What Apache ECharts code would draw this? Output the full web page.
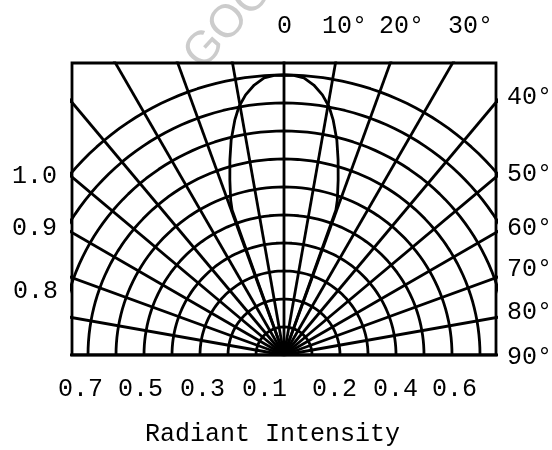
<!DOCTYPE html>
<html>
<head>
<meta charset="utf-8">
<script src="https://cdn.jsdelivr.net/npm/echarts@6/dist/echarts.min.js"></script>
<style>
html, body { margin:0; padding:0; background:#fff; }
#main { width:552px; height:450px; }
</style>
</head>
<body>
<div id="main"></div>
<script>
// rings of the polar grid (relative intensity) and spokes (deg from axis)
var ringValues = [0.1, 0.2, 0.3, 0.4, 0.5, 0.6, 0.7, 0.8, 0.9, 1.0] ;
var spokeAngles = [-90, -80, -70, -60, -50, -40, -30, -20, -10, 0, 10, 20, 30, 40, 50, 60, 70, 80, 90] ;

// measured beam pattern, one side (symmetric)
var lobeAngles = [0, 2, 4.1, 6.3, 8.4, 10.3, 11.8, 13.8, 15.5, 17.2, 19.0, 19.7, 20] ;
var lobeValues = [1.0, 0.999, 0.992, 0.970, 0.939, 0.901, 0.858, 0.791, 0.723, 0.654, 0.585, 0.55, 0] ;

// text around the frame
var topLabels = ['0', '10°', '20°', '30°'] ;
var rightLabels = ['40°', '50°', '60°', '70°', '80°', '90°'] ;
var leftLabels = ['1.0', '0.9', '0.8'] ;
var bottomLabels = ['0.7', '0.5', '0.3', '0.1', '0.2', '0.4', '0.6'] ;
var axisTitle = 'Radiant Intensity' ;

var topPos = [[277, 26], [322, 26], [379, 26], [448, 26]] ;
var rightPos = [[507, 97], [507, 174], [507, 228], [507, 269], [507, 312], [507, 357]] ;
var leftPos = [[12, 176], [12, 228], [13, 291]] ;
var bottomPos = [[58, 389], [118, 389], [180, 389], [242, 389], [312, 389], [373, 389], [432, 389]] ;

var FONT = '25px "Liberation Mono", "DejaVu Sans Mono", monospace' ;
var LW = 2.8 ;

function rad(d) { return d * Math.PI / 180 ; }

function polarPoint(deg, r)
{
	return [ r * Math.sin(rad(deg)), r * Math.cos(rad(deg)) ] ;
}

function initPage()
{
	var series = [] ;
	var lineStyle = { color:'#000', width:LW } ;

	for( var i = 0 ; i < ringValues.length ; i++ )
	{
		var pts = [] ;
		for( var a = -90 ; a <= 90 ; a += 2 )
			pts.push( polarPoint(a, ringValues[i]) ) ;
		series.push({ type:'line', data:pts, symbol:'none', lineStyle:lineStyle, silent:true, animation:false }) ;
	}

	for( var j = 0 ; j < spokeAngles.length ; j++ )
	{
		series.push({ type:'line', data:[ [0, 0], polarPoint(spokeAngles[j], 2) ],
			symbol:'none', lineStyle:lineStyle, silent:true, animation:false }) ;
	}

	// lobe: left side mirrored, then right side
	var lobe = [] ;
	for( var k = lobeAngles.length - 1 ; k > 0 ; k-- )
		lobe.push( polarPoint(-lobeAngles[k], lobeValues[k]) ) ;
	for( var m = 0 ; m < lobeAngles.length ; m++ )
		lobe.push( polarPoint(lobeAngles[m], lobeValues[m]) ) ;
	series.push({ type:'line', data:lobe, symbol:'none', lineStyle:lineStyle, silent:true, animation:false }) ;

	var texts = [] ;
	function addTexts(labels, pos)
	{
		for( var n = 0 ; n < labels.length ; n++ )
		{
			texts.push({ type:'text', x:pos[n][0], y:pos[n][1],
				style:{ text:labels[n], font:FONT, fill:'#000', textAlign:'left', textVerticalAlign:'middle' } }) ;
		}
	}
	addTexts(topLabels, topPos) ;
	addTexts(rightLabels, rightPos) ;
	addTexts(leftLabels, leftPos) ;
	addTexts(bottomLabels, bottomPos) ;
	addTexts([axisTitle], [[145, 434]]) ;

	// watermark
	texts.push({ type:'text', x:210, y:78, rotation:rad(48), z:-1,
		style:{ text:'GOODARK', font:'46px "Liberation Sans Narrow", "Liberation Sans", sans-serif', fill:'#cccccc', textAlign:'left', textVerticalAlign:'bottom' } }) ;

	var option = {
		backgroundColor:'#fff',
		animation:false,
		grid : { left:72, right:56, top:63, bottom:95, show:true, borderColor:'#000', borderWidth:LW, backgroundColor:'transparent' },
		xAxis : { type:'value', min:-212/280, max:212/280, show:false },
		yAxis : { type:'value', min:0, max:292/280, show:false },
		graphic : texts ,
		series : series
	};
	var myChart = echarts.init( document.getElementById('main') ) ;
	myChart.setOption(option) ;
}

initPage() ;
</script>
</body>
</html>
